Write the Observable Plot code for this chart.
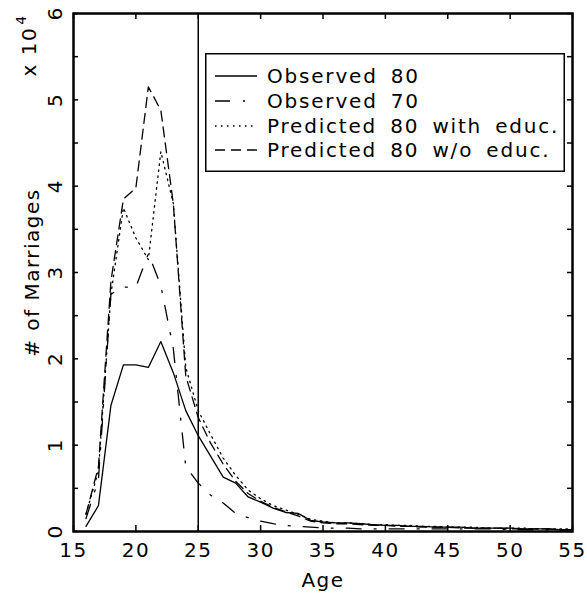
<!DOCTYPE html>
<html>
<head>
<meta charset="utf-8">
<script src="https://cdn.jsdelivr.net/npm/d3@7"></script>
<script src="https://cdn.jsdelivr.net/npm/@observablehq/plot@0.6"></script>
<style>
  html, body { margin: 0; padding: 0; background: #fff; }
  #wrap { position: relative; width: 587px; height: 596px; font-family: "DejaVu Sans", sans-serif; }
  #legend { position: absolute; left: 205px; top: 53px; }
  #chart svg text { letter-spacing: 1.5px; }
  #legend svg text { letter-spacing: 1.8px; word-spacing: 5px; }
</style>
</head>
<body>
<div id="wrap"><div id="chart"></div><div id="legend"></div></div>
<script>
// ---- data (number of marriages by age) ----
const ages = [16,17,18,19,20,21,22,23,24,25,26,27,28,29,30,31,32,33,34,35,36,37,38,39,40,41,42,43,44,45,46,47,48,49,50,51,52,53,54,55];
const observed80 = [600,3000,14600,19300,19300,19000,22000,18400,14000,11100,8700,6300,5600,4000,3400,2700,2200,2100,1300,1100,1000,1000,900,800,700,700,600,600,500,500,500,400,400,400,400,300,300,300,200,200];
const observed70 = [1500,6000,27500,28300,28300,32200,28500,21200,7500,5600,4200,3300,2100,1600,1200,900,700,600,500,400,400,400,300,300,300,300,300,300,300,300,300,300,300,300,200,200,200,200,200,200];
const predEduc = [2000,7000,27500,37500,34000,31500,44000,38000,19000,14000,11200,8500,6500,4800,3800,3000,2500,2000,1400,1200,1000,1000,900,800,800,700,700,600,600,500,500,500,400,400,400,400,300,300,300,300];
const predNoEduc = [2000,7500,29000,38500,39800,51500,48800,38000,18000,13200,10200,7800,5800,4400,3500,2800,2300,1800,1200,1000,900,900,800,700,700,600,600,500,500,500,400,400,400,400,300,300,300,300,200,200];
const seriesNames = ["Observed 80", "Observed 70", "Predicted 80 with educ.", "Predicted 80 w/o educ."];
const xTicks = [15,20,25,30,35,40,45,50,55];
const yLabels = [0,1,2,3,4,5,6];
const yTicks = [0,0.5,1,1.5,2,2.5,3,3.5,4,4.5,5,5.5,6];
const cutoffAge = [25];

const dashes = ["none", "15,13,2,13", "1.5,4.5", "10,6"];
const seriesValues = [observed80, observed70, predEduc, predNoEduc];

const W = 587, H = 596, mL = 73, mR = 15, mT = 13, mB = 65;
const innerW = W - mL - mR, innerH = H - mT - mB;
const fs = 20;

const lineMarks = seriesValues.map((vals, i) =>
  Plot.line(ages.map((a, j) => ({age: a, v: vals[j] / 1e4})), {
    x: "age", y: "v", stroke: "black", strokeWidth: 1.3,
    strokeDasharray: dashes[i] === "none" ? null : dashes[i]
  })
);

const chart = Plot.plot({
  width: W, height: H,
  marginLeft: mL, marginRight: mR, marginTop: mT, marginBottom: mB,
  style: {fontFamily: "DejaVu Sans, sans-serif", fontSize: fs + "px", background: "white"},
  x: {domain: [15, 55], axis: null},
  y: {domain: [0, 6], axis: null},
  marks: [
    ...lineMarks,
    Plot.ruleX(cutoffAge, {x: d => d, stroke: "black", strokeWidth: 1.5}),
    Plot.tickX(xTicks, {x: d => d, insetTop: innerH - 6, strokeWidth: 1.5}),
    Plot.tickX(xTicks, {x: d => d, insetBottom: innerH - 6, strokeWidth: 1.5}),
    Plot.tickY(yTicks, {y: d => d, insetRight: innerW - 5, strokeWidth: 1.5}),
    Plot.tickY(yTicks, {y: d => d, insetLeft: innerW - 5, strokeWidth: 1.5}),
    Plot.frame({stroke: "black", strokeWidth: 2.5}),
    Plot.text(xTicks, {x: d => d, text: d => String(d), frameAnchor: "bottom", dy: 19, lineAnchor: "middle", fontSize: fs, fill: "black"}),
    Plot.text(yLabels, {y: d => d, text: d => String(d), frameAnchor: "left", dx: -18, rotate: -90, textAnchor: "middle", lineAnchor: "middle", fontSize: fs, fill: "black"}),
    Plot.text(["Age"], {frameAnchor: "bottom", dy: 49, lineAnchor: "middle", fontSize: fs, fill: "black"}),
    Plot.text(["# of Marriages"], {frameAnchor: "left", dx: -41, rotate: -90, textAnchor: "middle", lineAnchor: "middle", fontSize: fs, fill: "black"}),
    Plot.text(["x 10"], {frameAnchor: "top-left", dx: -44, dy: 63, rotate: -90, textAnchor: "start", lineAnchor: "middle", fontSize: fs, fill: "black"}),
    Plot.text(["4"], {frameAnchor: "top-left", dx: -52, dy: 6, rotate: -90, textAnchor: "middle", lineAnchor: "middle", fontSize: 14, fill: "black"})
  ]
});
document.getElementById("chart").appendChild(chart);

// ---- legend ----
const lw = 360, lh = 119, rowY = [23, 48, 73, 97];
const ns = "http://www.w3.org/2000/svg";
const leg = document.createElementNS(ns, "svg");
leg.setAttribute("width", lw); leg.setAttribute("height", lh);
leg.setAttribute("font-family", "DejaVu Sans, sans-serif");
leg.setAttribute("font-size", fs);
const box = document.createElementNS(ns, "rect");
box.setAttribute("x", 0.75); box.setAttribute("y", 0.75);
box.setAttribute("width", lw - 1.5); box.setAttribute("height", lh - 1.5);
box.setAttribute("fill", "white"); box.setAttribute("stroke", "black"); box.setAttribute("stroke-width", 1.5);
leg.appendChild(box);
seriesNames.forEach((name, i) => {
  const ln = document.createElementNS(ns, "line");
  ln.setAttribute("x1", 10); ln.setAttribute("x2", 52);
  ln.setAttribute("y1", rowY[i]); ln.setAttribute("y2", rowY[i]);
  ln.setAttribute("stroke", "black"); ln.setAttribute("stroke-width", 1.4);
  if (dashes[i] !== "none") ln.setAttribute("stroke-dasharray", dashes[i]);
  leg.appendChild(ln);
  const t = document.createElementNS(ns, "text");
  t.setAttribute("x", 62); t.setAttribute("y", rowY[i]);
  t.setAttribute("dy", "0.35em");
  t.textContent = name;
  leg.appendChild(t);
});
document.getElementById("legend").appendChild(leg);
</script>
</body>
</html>
